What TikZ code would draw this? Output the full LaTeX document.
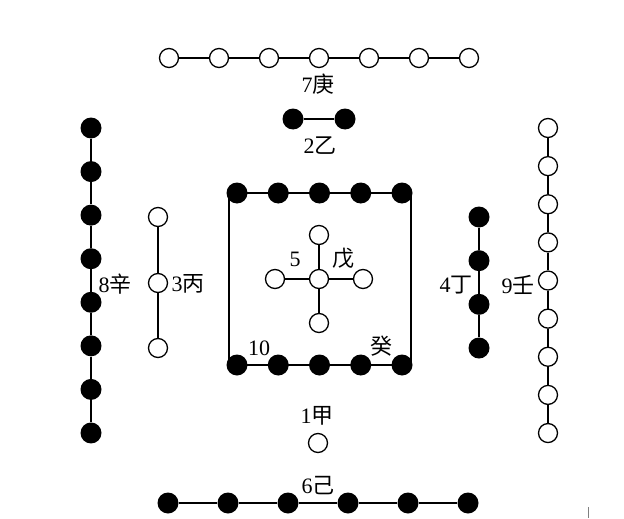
\documentclass[tikz,border=0pt]{standalone}
\usepackage{fontspec}
\setmainfont{Liberation Serif}
\newfontfamily\cjk{Noto Sans CJK SC}
\usepackage{tikz}
\usepackage{xcolor}

\tikzset{
  yang/.style={circle, draw, line width=1.3pt, fill=white, minimum size=19pt, inner sep=0pt},
  yin/.style={circle, fill=black, minimum size=21pt, inner sep=0pt},
  link/.style={line width=2.4pt},
  stem/.style={font=\fontsize{22}{22}\selectfont, inner sep=0pt}
}

\begin{document}
\begin{tikzpicture}[x=1pt, y=-1pt]
    \useasboundingbox (0,0) rectangle (624,519);

    % South (top): 7 white, 2 black
    \foreach \x [count=\i] in {169,219,...,469} {
        \node[yang] (sev\i) at (\x, 58) {};
    }
    \foreach \i [count=\j from 2] in {1,...,6} {
        \draw[link] (sev\i) -- (sev\j);
    }
    \node[stem] (lbl7) at (318, 84) {7\cjk 庚};
    \node[yin] (two1) at (293, 119) {};
    \node[yin] (two2) at (345, 119) {};
    \draw[link] (two1) -- (two2);
    \node[stem] (lbl2) at (320, 146) {2\cjk 乙};

    % East (left): 8 black, 3 white
    \foreach \i in {1,...,8} {
        \node[yin] (eig\i) at (91, {128+43.57*(\i-1)}) {};
    }
    \foreach \i [count=\j from 2] in {1,...,7} {
        \draw[link] (eig\i) -- (eig\j);
    }
    \node[stem] (lbl8) at (115, 284) {8\cjk 辛};
    \foreach \y [count=\i] in {217,283,348} {
        \node[yang] (thr\i) at (158, \y) {};
    }
    \draw[link] (thr1) -- (thr2);
    \draw[link] (thr2) -- (thr3);
    \node[stem] (lbl3) at (188, 284) {3\cjk 丙};

    % West (right): 4 black, 9 white
    \foreach \i in {1,...,4} {
        \node[yin] (fou\i) at (479, {217+43.67*(\i-1)}) {};
    }
    \foreach \i [count=\j from 2] in {1,...,3} {
        \draw[link] (fou\i) -- (fou\j);
    }
    \node[stem] (lbl4) at (456, 285) {4\cjk 丁};
    \foreach \i in {1,...,9} {
        \node[yang] (nin\i) at (548, {128+38.13*(\i-1)}) {};
    }
    \foreach \i [count=\j from 2] in {1,...,8} {
        \draw[link] (nin\i) -- (nin\j);
    }
    \node[stem] (lbl9) at (518, 285) {9\cjk 壬};

    % Centre: 10 black in a frame, 5 white as a cross
    \coordinate (box-nw) at (229, 193);
    \coordinate (box-se) at (411, 365);
    \draw[link] (box-nw) rectangle (box-se);
    \foreach \x [count=\i] in {237,278.25,...,402} {
        \node[yin] (ten\i) at (\x, 193) {};
        \node[yin] (ten\i b) at (\x, 365) {};
    }
    \node[yang] (fiv0) at (319, 279) {};
    \node[yang] (fiv1) at (319, 235) {};
    \node[yang] (fiv2) at (275, 279) {};
    \node[yang] (fiv3) at (363, 279) {};
    \node[yang] (fiv4) at (319, 323) {};
    \foreach \i in {1,...,4} {
        \draw[link] (fiv0) -- (fiv\i);
    }
    \node[stem] (lbl5) at (295, 259) {5};
    \node[stem] (lbl5s) at (343, 258) {\cjk 戊};
    \node[stem] (lbl10) at (259, 348) {10};
    \node[stem] (lbl10s) at (381, 346) {\cjk 癸};

    % North (bottom): 1 white, 6 black
    \node[stem] (lbl1) at (317, 416) {1\cjk 甲};
    \node[yang] (one1) at (318, 443) {};
    \node[stem] (lbl6) at (318, 486) {6\cjk 己};
    \foreach \x [count=\i] in {168,228,...,468} {
        \node[yin] (six\i) at (\x, 503) {};
    }
    \foreach \i [count=\j from 2] in {1,...,5} {
        \draw[link] (six\i) -- (six\j);
    }

    % stray mark at the lower right
    \coordinate (mark-a) at (588, 507);
    \coordinate (mark-b) at (588, 518);
    \draw[gray, line width=1pt] (mark-a) -- (mark-b);
\end{tikzpicture}
\end{document}
